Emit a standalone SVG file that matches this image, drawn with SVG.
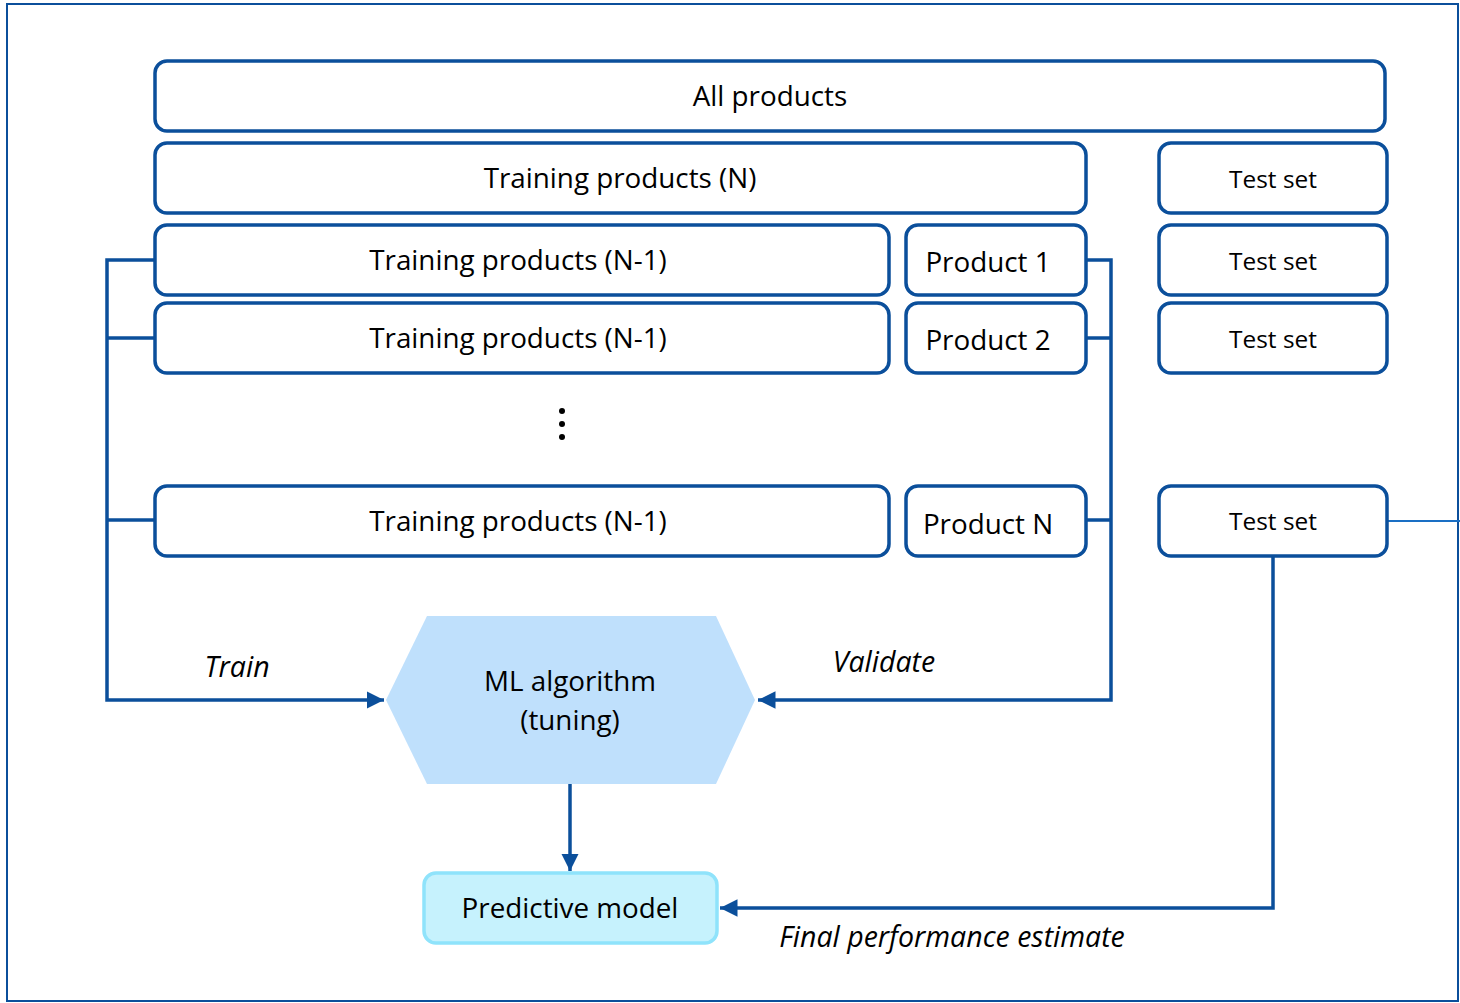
<svg xmlns="http://www.w3.org/2000/svg" width="1460" height="1003" viewBox="0 0 1460 1003">
<defs>
<style>
.box{fill:#fff;stroke:#0b4f9b;stroke-width:3.5}
.t{font-family:"Open Sans","Liberation Sans",sans-serif;font-size:27.8px;fill:#000;text-anchor:middle}
.ts{font-family:"Open Sans","Liberation Sans",sans-serif;font-size:24.4px;fill:#000;text-anchor:middle}
.it{font-family:"Open Sans","Liberation Sans",sans-serif;font-size:28.5px;font-style:italic;fill:#000;text-anchor:middle}
.c{fill:none;stroke:#0b4f9b;stroke-width:3.5}
</style>
<marker id="ah" viewBox="0 0 10 10" refX="10" refY="5" markerWidth="5" markerHeight="5" orient="auto" markerUnits="strokeWidth">
<path d="M0,0 L10,5 L0,10 z" fill="#0b4f9b"/>
</marker>
</defs>
<rect x="0" y="0" width="1460" height="1003" fill="#fff"/>
<rect x="7" y="4" width="1451" height="997" fill="none" stroke="#0b4f9b" stroke-width="2"/>
<g id="connectors">
<path class="c" d="M155,260 H107 V700 H384" marker-end="url(#ah)"/>
<path class="c" d="M107,338 H155"/>
<path class="c" d="M107,520 H155"/>
<path class="c" d="M1086,260 H1111 V700 H758" marker-end="url(#ah)"/>
<path class="c" d="M1086,338 H1111"/>
<path class="c" d="M1086,520 H1111"/>
<path class="c" d="M570,784 V871" marker-end="url(#ah)"/>
<path class="c" d="M1273,556 V908 H720" marker-end="url(#ah)"/>
<path d="M1387,521 H1460" stroke="#1a6fc4" stroke-width="2" fill="none"/>
</g>
<g id="all"><rect class="box" x="155" y="61" width="1230" height="70" rx="12"/><text class="t" x="770" y="106">All products</text></g>
<g id="trainN"><rect class="box" x="155" y="143" width="931" height="70" rx="12"/><text class="t" x="620" y="188">Training products (N)</text></g>
<g id="test0"><rect class="box" x="1159" y="143" width="228" height="70" rx="12"/><text class="ts" x="1273" y="188">Test set</text></g>
<g id="train1"><rect class="box" x="155" y="225" width="734" height="70" rx="12"/><text class="t" x="518" y="270">Training products (N-1)</text></g>
<g id="prod1"><rect class="box" x="906" y="225" width="180" height="70" rx="12"/><text class="t" x="988" y="272">Product 1</text></g>
<g id="test1"><rect class="box" x="1159" y="225" width="228" height="70" rx="12"/><text class="ts" x="1273" y="270">Test set</text></g>
<g id="train2"><rect class="box" x="155" y="303" width="734" height="70" rx="12"/><text class="t" x="518" y="348">Training products (N-1)</text></g>
<g id="prod2"><rect class="box" x="906" y="303" width="180" height="70" rx="12"/><text class="t" x="988" y="350">Product 2</text></g>
<g id="test2"><rect class="box" x="1159" y="303" width="228" height="70" rx="12"/><text class="ts" x="1273" y="348">Test set</text></g>
<g id="dots"><circle cx="562" cy="411" r="3" fill="#000"/><circle cx="562" cy="424" r="3" fill="#000"/><circle cx="562" cy="437" r="3" fill="#000"/></g>
<g id="trainN1"><rect class="box" x="155" y="486" width="734" height="70" rx="12"/><text class="t" x="518" y="531">Training products (N-1)</text></g>
<g id="prodN"><rect class="box" x="906" y="486" width="180" height="70" rx="12"/><text class="t" x="988" y="534">Product N</text></g>
<g id="testN"><rect class="box" x="1159" y="486" width="228" height="70" rx="12"/><text class="ts" x="1273" y="530">Test set</text></g>
<g id="ml"><polygon points="427,616 716,616 755,700 716,784 427,784 386,700" fill="#bfe0fc"/><text class="t" x="570" y="691">ML algorithm</text><text class="t" x="570" y="730">(tuning)</text></g>
<g id="pm"><rect x="424" y="873" width="293" height="70" rx="12" fill="#c6f2fd" stroke="#8fe3fb" stroke-width="3.5"/><text class="t" x="570" y="918">Predictive model</text></g>
<text class="it" x="237" y="677">Train</text>
<text class="it" x="884" y="672">Validate</text>
<text class="it" x="952" y="947">Final performance estimate</text>
</svg>
